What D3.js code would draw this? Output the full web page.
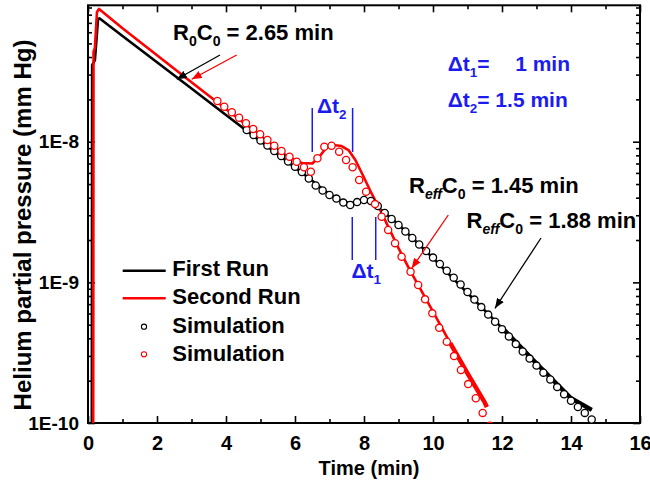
<!DOCTYPE html>
<html>
<head>
<meta charset="utf-8">
<script src="https://cdn.jsdelivr.net/npm/d3@7"></script>
<style>
body { margin: 0; background: #fff; }
svg text { font-family: Arial, "Liberation Sans", sans-serif; font-weight: bold; }
</style>
</head>
<body>
<svg id="chart" width="650" height="484"></svg>
<script>
// measured traces (time in min, pressure in mm Hg)
var firstRunTime = [0.11, 0.12, 0.2, 0.29, 0.33, 1, 2, 3, 4, 5, 6, 6.4, 6.8, 7.2, 7.6, 7.9, 8.2, 8.5, 9, 10, 11, 12, 13, 14, 14.6];
var firstRunPressure = [5e-11, 3.5e-8, 3.8e-8, 7.4e-8, 7.55e-8, 5.65e-8, 3.67e-8, 2.39e-8, 1.55e-8, 1.007e-8, 6.55e-9, 5.52e-9, 4.61e-9, 3.91e-9, 3.63e-9, 3.85e-9, 3.72e-9, 3.27e-9, 2.58e-9, 1.49e-9, 8.4e-10, 4.75e-10, 2.65e-10, 1.50e-10, 1.24e-10];

var secondRunTime = [0.15, 0.16, 0.2, 0.26, 0.32, 1, 2, 3, 4, 5, 5.8, 6.2, 6.5, 6.7, 6.9, 7.1, 7.35, 7.55, 7.75, 7.95, 8.2, 8.5, 9, 9.33, 10, 10.5, 11, 11.5, 11.56];
var secondRunPressure = [5e-11, 4.35e-8, 4.64e-8, 8.36e-8, 8.79e-8, 6.41e-8, 4.12e-8, 2.65e-8, 1.71e-8, 1.10e-8, 7.78e-9, 7.06e-9, 7.0e-9, 7.78e-9, 9.02e-9, 9.47e-9, 9.32e-9, 8.73e-9, 7.41e-9, 5.89e-9, 4.39e-9, 3.16e-9, 1.75e-9, 1.22e-9, 6.2e-10, 3.7e-10, 2.25e-10, 1.4e-10, 1.30e-10];

// simulation points
var simFirstTime = [4.6, 4.8, 5.0, 5.2, 5.4, 5.6, 5.8, 6.0, 6.2, 6.4, 6.6, 6.8, 7.0, 7.2, 7.4, 7.6, 7.8, 8.0, 8.2, 8.4, 8.6, 8.8, 9.0, 9.2, 9.4, 9.6, 9.8, 10.0, 10.2, 10.4, 10.6, 10.8, 11.0, 11.2, 11.4, 11.6, 11.8, 12.0, 12.2, 12.4, 12.6, 12.8, 13.0, 13.2, 13.4, 13.6, 13.8, 14.0, 14.2, 14.4, 14.6];
var simFirstPressure = [1.211e-8, 1.116e-8, 1.020e-8, 9.40e-9, 8.59e-9, 7.91e-9, 7.23e-9, 6.64e-9, 6.09e-9, 5.47e-9, 4.88e-9, 4.50e-9, 4.18e-9, 3.94e-9, 3.69e-9, 3.55e-9, 3.72e-9, 3.85e-9, 3.79e-9, 3.49e-9, 3.11e-9, 2.82e-9, 2.56e-9, 2.30e-9, 2.07e-9, 1.86e-9, 1.67e-9, 1.50e-9, 1.35e-9, 1.21e-9, 1.08e-9, 9.65e-10, 8.53e-10, 7.54e-10, 6.67e-10, 5.90e-10, 5.25e-10, 4.65e-10, 4.12e-10, 3.64e-10, 3.22e-10, 2.87e-10, 2.56e-10, 2.28e-10, 2.04e-10, 1.80e-10, 1.60e-10, 1.44e-10, 1.30e-10, 1.18e-10, 1.06e-10];

var simSecondTime = [3.75, 3.95, 4.17, 4.38, 4.58, 4.79, 4.99, 5.20, 5.40, 5.61, 5.84, 6.05, 6.26, 6.46, 6.65, 6.85, 7.06, 7.28, 7.48, 7.67, 7.86, 8.06, 8.32, 8.51, 8.70, 8.90, 9.09, 9.35, 9.57, 9.77, 9.98, 10.18, 10.40, 10.61, 10.81, 11.02, 11.24, 11.44, 11.65];
var simSecondPressure = [1.945e-8, 1.774e-8, 1.618e-8, 1.482e-8, 1.352e-8, 1.231e-8, 1.129e-8, 1.028e-8, 9.37e-9, 8.59e-9, 7.82e-9, 7.21e-9, 6.58e-9, 6.12e-9, 7.62e-9, 9.21e-9, 9.37e-9, 8.50e-9, 7.41e-9, 6.58e-9, 5.34e-9, 4.41e-9, 3.60e-9, 2.93e-9, 2.36e-9, 1.90e-9, 1.52e-9, 1.19e-9, 9.57e-10, 7.57e-10, 6.02e-10, 4.75e-10, 3.78e-10, 2.99e-10, 2.38e-10, 1.89e-10, 1.50e-10, 1.18e-10, 9.55e-11];

var xMajorTicks = [0, 2, 4, 6, 8, 10, 12, 14, 16];
var xMinorTicks = [1, 3, 5, 7, 9, 11, 13, 15];
var yMajorTicks = [1e-10, 1e-9, 1e-8];
var yTickLabels = ["1E-10", "1E-9", "1E-8"];
var legendLabels = ["First Run", "Second Run", "Simulation", "Simulation"];

var BLUE = "#1c1cf0", RED = "#ff0000";

var svg = d3.select("#chart");
var plotLeft = 88, plotRight = 640, plotTop = 5.3, plotBottom = 423;
var yMax = 9.33e-8;

var x = d3.scaleLinear().domain([0, 16]).range([plotLeft, plotRight]);
var y = d3.scaleLog().domain([1e-10, yMax]).range([plotBottom, plotTop]);

function zip(ts, ps) { return ts.map(function(t, i) { return {t: t, p: ps[i]}; }); }
var firstRun = zip(firstRunTime, firstRunPressure);
var secondRun = zip(secondRunTime, secondRunPressure);
var simFirst = zip(simFirstTime, simFirstPressure);
var simSecond = zip(simSecondTime, simSecondPressure);

var yMinorTicks = [];
yMajorTicks.forEach(function(d) {
    for (var k = 2; k <= 9; k++) { if (d * k <= yMax) yMinorTicks.push(d * k); }
});

svg.append("defs").append("clipPath").attr("id", "clip")
    .append("rect").attr("x", plotLeft).attr("y", plotTop)
    .attr("width", plotRight - plotLeft).attr("height", plotBottom - plotTop);

function marker(id, color) {
    svg.select("defs").append("marker")
        .attr("id", id).attr("viewBox", "0 0 10 8")
        .attr("refX", 10).attr("refY", 4)
        .attr("markerWidth", 10).attr("markerHeight", 8)
        .attr("markerUnits", "userSpaceOnUse").attr("orient", "auto")
        .append("path").attr("d", "M0,0 L10,4 L0,8 Z").attr("fill", color);
}
marker("arrBlack", "#000");
marker("arrRed", RED);

// axes
function styleAxis(g) {
    g.select(".domain").remove();
    g.selectAll(".tick line").attr("stroke", "#000").attr("stroke-width", 1.6);
}
svg.append("g").attr("transform", "translate(0," + plotBottom + ")")
    .call(d3.axisBottom(x).tickValues(xMajorTicks).tickSize(-7).tickSizeOuter(0).tickFormat(d3.format("d")))
    .call(styleAxis)
    .call(function(g) {
        g.selectAll("text").attr("dy", null).attr("y", 27).attr("font-size", 20).attr("fill", "#000");
    });
svg.append("g").attr("transform", "translate(0," + plotBottom + ")")
    .call(d3.axisBottom(x).tickValues(xMinorTicks).tickSize(-4).tickSizeOuter(0).tickFormat(""))
    .call(styleAxis);
svg.append("g").attr("transform", "translate(0," + plotTop + ")")
    .call(d3.axisTop(x).tickValues(xMajorTicks).tickSize(-7).tickSizeOuter(0).tickFormat(""))
    .call(styleAxis);
svg.append("g").attr("transform", "translate(0," + plotTop + ")")
    .call(d3.axisTop(x).tickValues(xMinorTicks).tickSize(-4).tickSizeOuter(0).tickFormat(""))
    .call(styleAxis);
svg.append("g").attr("transform", "translate(" + plotLeft + ",0)")
    .call(d3.axisLeft(y).tickValues(yMajorTicks).tickSize(-7).tickSizeOuter(0).tickPadding(9)
        .tickFormat(function(d, i) { return yTickLabels[i]; }))
    .call(styleAxis)
    .call(function(g) { g.selectAll("text").attr("font-size", 19).attr("fill", "#000"); });
svg.append("g").attr("transform", "translate(" + plotLeft + ",0)")
    .call(d3.axisLeft(y).tickValues(yMinorTicks).tickSize(-4).tickSizeOuter(0).tickFormat(""))
    .call(styleAxis);
svg.append("g").attr("transform", "translate(" + plotRight + ",0)")
    .call(d3.axisRight(y).tickValues(yMajorTicks).tickSize(-7).tickSizeOuter(0).tickFormat(""))
    .call(styleAxis);
svg.append("g").attr("transform", "translate(" + plotRight + ",0)")
    .call(d3.axisRight(y).tickValues(yMinorTicks).tickSize(-4).tickSizeOuter(0).tickFormat(""))
    .call(styleAxis);

svg.append("rect").attr("x", plotLeft).attr("y", plotTop)
    .attr("width", plotRight - plotLeft).attr("height", plotBottom - plotTop)
    .attr("fill", "none").attr("stroke", "#000").attr("stroke-width", 2);

// axis titles
svg.append("text").attr("x", 369).attr("y", 475).attr("text-anchor", "middle").attr("font-size", 20).text("Time (min)");
svg.append("text").attr("transform", "translate(31,225) rotate(-90)").attr("text-anchor", "middle")
    .attr("font-size", 24).text("Helium partial pressure (mm Hg)");

// curves
var line = d3.line().x(function(d) { return x(d.t); }).y(function(d) { return y(d.p); });
var plot = svg.append("g").attr("clip-path", "url(#clip)");

plot.append("path").datum(firstRun).attr("d", line)
    .attr("fill", "none").attr("stroke", "#000").attr("stroke-width", 2.6).attr("stroke-linejoin", "round");
plot.append("path").datum(firstRun.filter(function(d) { return d.t >= 12; })).attr("d", line)
    .attr("fill", "none").attr("stroke", "#000").attr("stroke-width", 4.5);
plot.append("path").datum(secondRun).attr("d", line)
    .attr("fill", "none").attr("stroke", RED).attr("stroke-width", 2.6).attr("stroke-linejoin", "round");
plot.append("path").datum(secondRun.filter(function(d) { return d.t >= 10.5; })).attr("d", line)
    .attr("fill", "none").attr("stroke", RED).attr("stroke-width", 4.5);

plot.selectAll("circle.simA").data(simFirst).enter().append("circle").attr("class", "simA")
    .attr("cx", function(d) { return x(d.t); }).attr("cy", function(d) { return y(d.p); })
    .attr("r", 3.6).attr("fill", "#fff").attr("stroke", "#000").attr("stroke-width", 1.3);
plot.selectAll("circle.simB").data(simSecond).enter().append("circle").attr("class", "simB")
    .attr("cx", function(d) { return x(d.t); }).attr("cy", function(d) { return y(d.p); })
    .attr("r", 3.6).attr("fill", "#fff").attr("stroke", RED).attr("stroke-width", 1.3);

// rich text helper: parts = [[text, kind]], kind: n normal, s subscript, e italic subscript
function richText(px, py, parts, color, size) {
    var t = svg.append("text").attr("x", px).attr("y", py).attr("font-size", size).attr("fill", color);
    var shift = 0;
    parts.forEach(function(p) {
        var ts = t.append("tspan").text(p[0]);
        if (p[1] === "s" || p[1] === "e") {
            ts.attr("font-size", size * 0.64).attr("dy", 6 - shift);
            shift = 6;
            if (p[1] === "e") ts.attr("font-style", "italic");
        } else {
            ts.attr("dy", -shift);
            shift = 0;
        }
    });
    return t;
}

richText(173, 39.5, [["R", "n"], ["0", "s"], ["C", "n"], ["0", "s"], [" = 2.65 min", "n"]], "#000", 22);
richText(409, 193.3, [["R", "n"], ["eff", "e"], ["C", "n"], ["0", "s"], [" = 1.45 min", "n"]], "#000", 22);
richText(466.5, 228.3, [["R", "n"], ["eff", "e"], ["C", "n"], ["0", "s"], [" = 1.88 min", "n"]], "#000", 22);

richText(447.7, 71, [["\u0394t", "n"], ["1", "s"], ["=", "n"]], BLUE, 21);
svg.append("text").attr("x", 570).attr("y", 71).attr("text-anchor", "end").attr("font-size", 21).attr("fill", BLUE).text("1 min");
richText(447.7, 106.5, [["\u0394t", "n"], ["2", "s"], ["= 1.5 min", "n"]], BLUE, 21);

richText(317, 113, [["\u0394t", "n"], ["2", "s"]], BLUE, 21);
richText(351.5, 278, [["\u0394t", "n"], ["1", "s"]], BLUE, 21);

// delta-t markers
var dtMarks = [
    {t: 6.5, y0: 108, y1: 152}, {t: 7.67, y0: 108, y1: 152},
    {t: 7.66, y0: 217, y1: 260}, {t: 8.34, y0: 217, y1: 260}
];
svg.selectAll("line.dt").data(dtMarks).enter().append("line").attr("class", "dt")
    .attr("x1", function(d) { return x(d.t); }).attr("x2", function(d) { return x(d.t); })
    .attr("y1", function(d) { return d.y0; }).attr("y2", function(d) { return d.y1; })
    .attr("stroke", BLUE).attr("stroke-width", 1.5);

// arrows
var arrows = [
    {x1: 220, y1: 55, x2: 176.7, y2: 79.3, c: "#000", m: "arrBlack"},
    {x1: 236.7, y1: 55, x2: 191.7, y2: 79.3, c: RED, m: "arrRed"},
    {x1: 448.3, y1: 215, x2: 411.7, y2: 268.3, c: RED, m: "arrRed"},
    {x1: 541, y1: 238, x2: 495, y2: 308.3, c: "#000", m: "arrBlack"}
];
svg.selectAll("line.arrow").data(arrows).enter().append("line").attr("class", "arrow")
    .attr("x1", function(d) { return d.x1; }).attr("y1", function(d) { return d.y1; })
    .attr("x2", function(d) { return d.x2; }).attr("y2", function(d) { return d.y2; })
    .attr("stroke", function(d) { return d.c; }).attr("stroke-width", 1.3)
    .attr("marker-end", function(d) { return "url(#" + d.m + ")"; });

// legend
var legend = svg.append("g");
var legendY = [275.7, 304.3, 332.7, 360.7];
legend.selectAll("text").data(legendLabels).enter().append("text")
    .attr("x", 172.3).attr("y", function(d, i) { return legendY[i]; })
    .attr("font-size", 22).attr("fill", "#000").text(function(d) { return d; });
legend.append("line").attr("x1", 122.7).attr("x2", 165.7).attr("y1", 270.7).attr("y2", 270.7)
    .attr("stroke", "#000").attr("stroke-width", 2.6);
legend.append("line").attr("x1", 122.7).attr("x2", 165.7).attr("y1", 298.3).attr("y2", 298.3)
    .attr("stroke", RED).attr("stroke-width", 2.6);
legend.append("circle").attr("cx", 144).attr("cy", 326.7).attr("r", 2.6)
    .attr("fill", "#fff").attr("stroke", "#000").attr("stroke-width", 1.1);
legend.append("circle").attr("cx", 144).attr("cy", 354.3).attr("r", 2.6)
    .attr("fill", "#fff").attr("stroke", RED).attr("stroke-width", 1.1);
</script>
</body>
</html>
